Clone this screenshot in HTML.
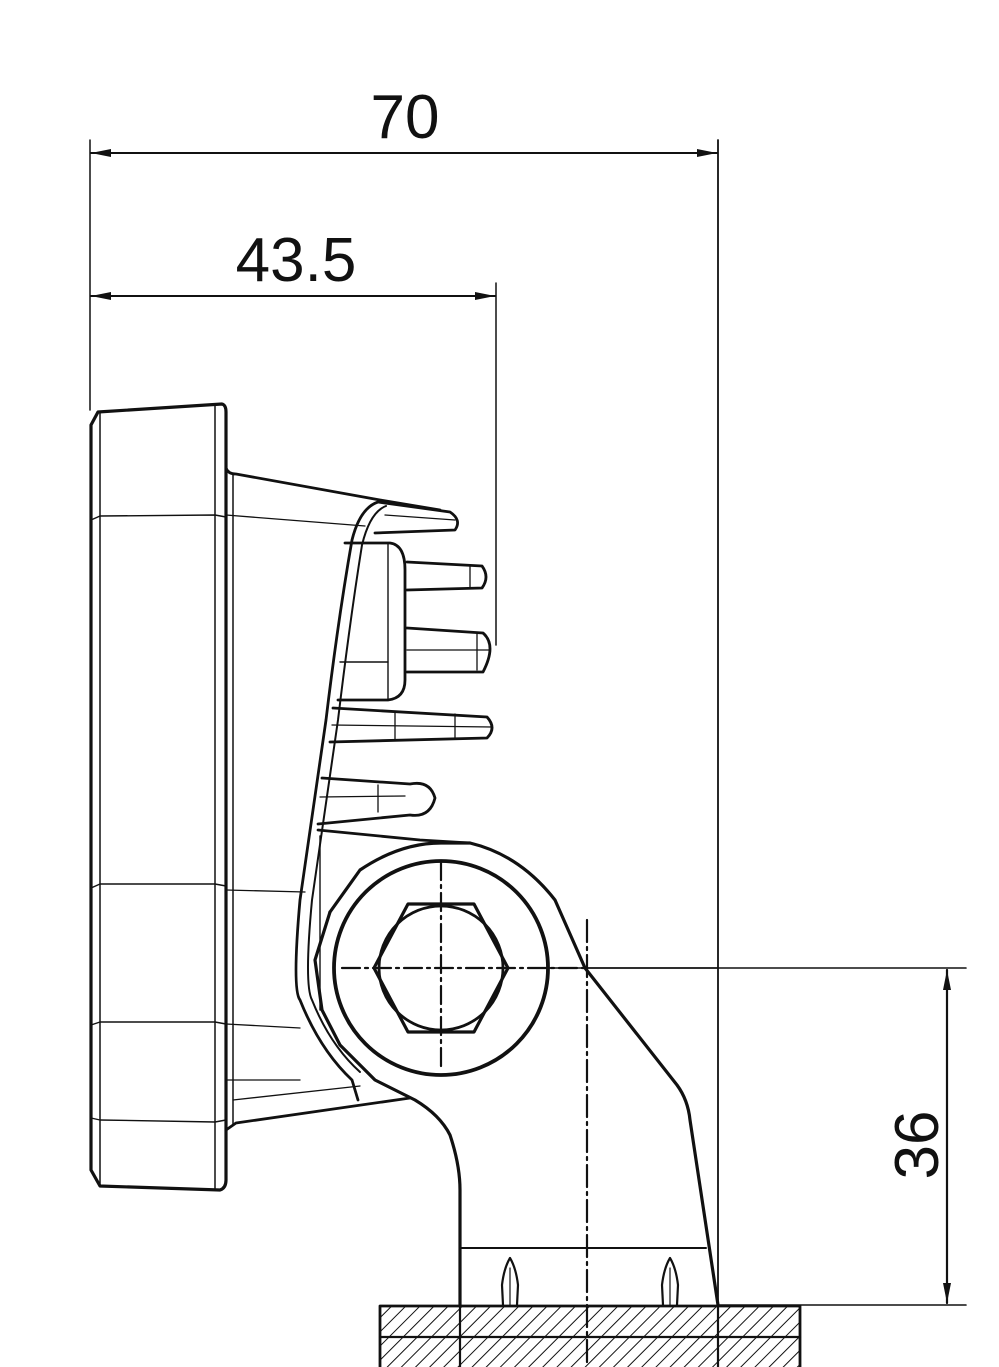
<!DOCTYPE html>
<html><head><meta charset="utf-8"><style>
html,body{margin:0;padding:0;background:#fff;}
svg{display:block;}
text{font-family:"Liberation Sans",Arial,sans-serif;fill:#111;}
</style></head><body>
<svg width="999" height="1367" viewBox="0 0 999 1367" xmlns="http://www.w3.org/2000/svg">
<defs>
<pattern id="h" width="10" height="10" patternUnits="userSpaceOnUse" patternTransform="rotate(45)">
<line x1="0" y1="0" x2="0" y2="10" stroke="#111" stroke-width="2"/>
</pattern>
<marker id="a" viewBox="0 0 20 8" refX="20" refY="4" markerWidth="20" markerHeight="8" markerUnits="userSpaceOnUse" orient="auto-start-reverse">
<path d="M0,0 L20,4 L0,8 z" fill="#111"/>
</marker>
</defs>
<g fill="none" stroke="#111" stroke-linejoin="round" stroke-linecap="round">
<line x1="90" y1="140" x2="90" y2="410" stroke-width="1.5"/>
<line x1="718" y1="140" x2="718" y2="1367" stroke-width="1.8"/>
<line x1="91" y1="153" x2="717" y2="153" stroke-width="2" marker-start="url(#a)" marker-end="url(#a)"/>
<line x1="496" y1="283" x2="496" y2="645" stroke-width="1.5"/>
<line x1="91" y1="296" x2="495" y2="296" stroke-width="2" marker-start="url(#a)" marker-end="url(#a)"/>
<line x1="548" y1="968" x2="966" y2="968" stroke-width="1.6"/>
<line x1="718" y1="1305" x2="966" y2="1305" stroke-width="1.6"/>
<line x1="947" y1="970" x2="947" y2="1303" stroke-width="2.2" marker-start="url(#a)" marker-end="url(#a)"/>

<path d="M98,412 L222,404 Q226,405 226,412 L226,1180 Q226,1188 220,1190 L100,1186 L91,1170 L91,425 Z" stroke-width="3.2"/>
<line x1="100" y1="413" x2="100" y2="1186" stroke-width="1.5"/>
<line x1="215" y1="405" x2="215" y2="1189" stroke-width="1.5"/>
<path d="M91,520 L100,516 L215,515 L226,517" stroke-width="1.4"/>
<path d="M91,888 L100,884 L215,884 L226,886" stroke-width="1.4"/>
<path d="M91,1025 L100,1022 L215,1022 L226,1024" stroke-width="1.4"/>
<path d="M91,1118 L100,1120 L215,1122 L226,1120" stroke-width="1.4"/>
<path d="M226,468 Q228,474 236,474 L380,500 L440,510" stroke-width="2.8"/>
<line x1="233" y1="474" x2="233" y2="1124" stroke-width="1.5"/>
<line x1="226" y1="515" x2="365" y2="526" stroke-width="1.3"/>
<line x1="226" y1="1024" x2="300" y2="1028" stroke-width="1.3"/>
<path d="M226,1130 L236,1123 L410,1098" stroke-width="2.8"/>
<line x1="233" y1="1100" x2="360" y2="1086" stroke-width="1.3"/>
<line x1="226" y1="1080" x2="300" y2="1080" stroke-width="1.3"/>
<line x1="226" y1="890" x2="305" y2="892" stroke-width="1.3"/>
<path d="M378,502 Q360,508 352,540 Q338,620 326,720 L300,900 Q292,990 300,1000 Q320,1050 352,1080 L358,1100" stroke-width="2.8"/>
<path d="M386,506 Q370,512 362,545 Q350,620 338,720 L312,900 Q304,985 312,1000 Q330,1045 360,1072" stroke-width="2"/>
<path d="M345,543 L390,543 Q405,545 405,570 L405,680 Q405,698 388,700 L338,700" stroke-width="2.8"/>
<line x1="388" y1="544" x2="388" y2="699" stroke-width="1.4"/>
<line x1="340" y1="662" x2="388" y2="662" stroke-width="1.4"/>
<path d="M378,502 L450,512 Q462,520 455,530 L375,533" stroke-width="2.8"/>
<line x1="385" y1="515" x2="455" y2="520" stroke-width="1.3"/>
<path d="M407,562 L482,566 Q490,577 482,588 L407,590" stroke-width="2.8"/>
<line x1="470" y1="566" x2="470" y2="588" stroke-width="1.3"/>
<path d="M407,628 L483,633 Q497,645 483,672 L407,672" stroke-width="2.8"/>
<line x1="407" y1="650" x2="490" y2="650" stroke-width="1.3"/>
<line x1="477" y1="633" x2="477" y2="670" stroke-width="1.3"/>
<path d="M333,708 L487,717 Q497,728 487,738 L330,742" stroke-width="2.8"/>
<line x1="332" y1="725" x2="492" y2="727" stroke-width="1.3"/>
<line x1="395" y1="712" x2="395" y2="740" stroke-width="1.3"/>
<line x1="455" y1="714" x2="455" y2="738" stroke-width="1.3"/>
<path d="M322,778 L410,784 Q430,780 435,798 Q430,818 410,815 L318,824" stroke-width="2.8"/>
<line x1="320" y1="797" x2="405" y2="796" stroke-width="1.3"/>
<line x1="378" y1="785" x2="378" y2="812" stroke-width="1.3"/>
<path d="M318,830 L420,840 L470,843" stroke-width="2.8"/>
<line x1="320" y1="836" x2="320" y2="1010" stroke-width="1.4"/>

<path d="M330,912 L360,870 Q400,843 441,843 L470,843 Q520,855 555,900 L585,968 L677,1085 Q688,1100 690,1120 L718,1305" stroke-width="3.2"/>
<path d="M330,912 L315,960 L322,1010 L340,1045 L375,1080 L415,1100 Q440,1115 450,1135 Q460,1165 460,1190 L460,1305" stroke-width="3.2"/>
<line x1="460" y1="1248" x2="706" y2="1248" stroke-width="2"/>
<circle cx="441" cy="968" r="107" stroke-width="3.8"/>
<polygon points="408,904 474,904 508,968 474,1032 408,1032 374,968" stroke-width="3.2"/>
<circle cx="441" cy="968" r="62" stroke-width="2.8"/>
<line x1="342" y1="968" x2="585" y2="968" stroke-width="2.2" stroke-dasharray="18,5,3,5"/>
<line x1="585" y1="968" x2="718" y2="968" stroke-width="1.6"/>
<line x1="441" y1="862" x2="441" y2="1070" stroke-width="2.2" stroke-dasharray="18,5,3,5"/>
<line x1="587" y1="920" x2="587" y2="1367" stroke-width="2.2" stroke-dasharray="22,5,3,5"/>
<path d="M503,1305 L502,1285 Q504,1268 510,1258 Q516,1268 518,1285 L517,1305" stroke-width="2.2"/>
<line x1="510" y1="1268" x2="510" y2="1305" stroke-width="1.2"/>
<path d="M663,1305 L662,1285 Q664,1268 670,1258 Q676,1268 678,1285 L677,1305" stroke-width="2.2"/>
<line x1="670" y1="1268" x2="670" y2="1305" stroke-width="1.2"/>
<rect x="380" y="1306" width="420" height="70" fill="url(#h)" stroke-width="2.8"/>
<line x1="380" y1="1337" x2="800" y2="1337" stroke-width="2.2"/>
<line x1="460" y1="1306" x2="460" y2="1367" stroke-width="2.2"/>
<line x1="718" y1="1306" x2="718" y2="1367" stroke-width="2.2"/>
</g>
<text x="405" y="138" font-size="62" text-anchor="middle">70</text>
<text x="296" y="281" font-size="62" text-anchor="middle">43.5</text>
<text transform="translate(938,1145) rotate(-90)" font-size="62" text-anchor="middle">36</text>
</svg>
</body></html>
